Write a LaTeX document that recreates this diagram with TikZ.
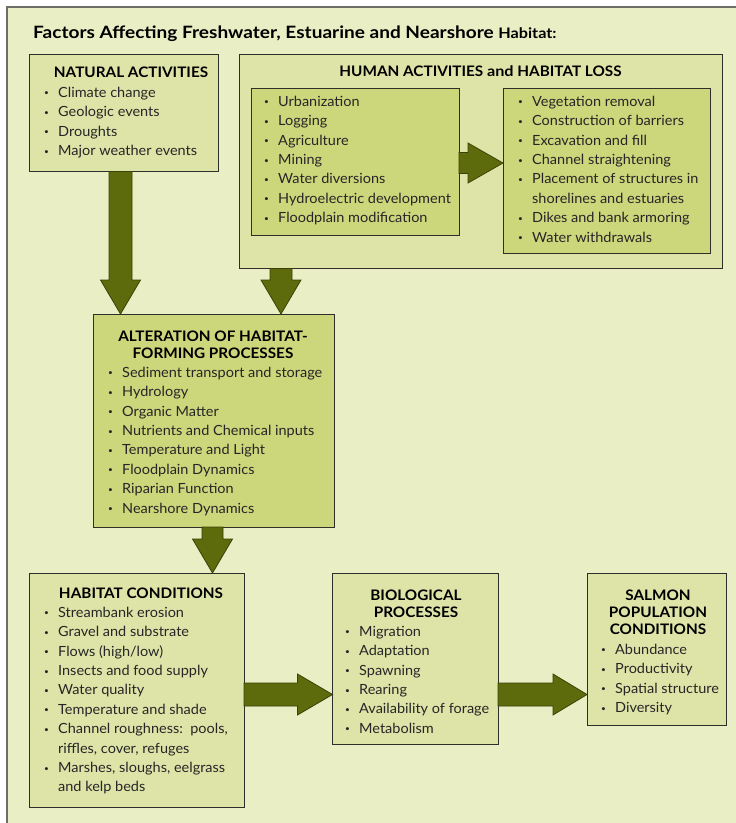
\documentclass[tikz,border=0pt]{standalone}
\usepackage{fontspec}
\setmainfont{Lato}
\newfontfamily\bodyfam[FakeStretch=1.035]{Lato}
\newfontfamily\headfam[FakeStretch=1.055]{Lato}
\newfontfamily\titlefam[FakeStretch=1.12]{Lato}
\usetikzlibrary{calc}
\definecolor{bg}{HTML}{E9EEC4}
\definecolor{lightbox}{HTML}{DEE4A8}
\definecolor{darkbox}{HTML}{CCD67B}
\definecolor{arrowfill}{HTML}{5E6B0C}
\definecolor{arrowline}{HTML}{3A4306}
\definecolor{boxline}{HTML}{2E2E2A}
\definecolor{frameline}{HTML}{6E6E68}
\newcommand\bodyfont{\bodyfam\fontsize{14}{19.4}\selectfont}
\newcommand\headfont{\headfam\fontsize{14.5}{17}\selectfont\bfseries}
\newcommand\bul{\makebox[14pt][l]{\raisebox{1.3pt}{\fontsize{8}{8}\selectfont\textbullet}}}
\newcommand\cont{\hspace*{14pt}}
% vertical block arrow: from node #1 to node #2 at x=#3, shaft half #4, head half #5, head length #6
\newcommand\varrow[6]{%
  \draw[blk] let \p1=(#1), \p2=(#2) in
    (#3-#4,\y1) -- (#3-#4,\y2+#6pt) -- (#3-#5,\y2+#6pt) -- (#3,\y2)
    -- (#3+#5,\y2+#6pt) -- (#3+#4,\y2+#6pt) -- (#3+#4,\y1) -- cycle;}
% horizontal block arrow: from node #1 to node #2 at y=#3
\newcommand\harrow[6]{%
  \draw[blk] let \p1=(#1), \p2=(#2) in
    (\x1,#3-#4) -- (\x2-#6pt,#3-#4) -- (\x2-#6pt,#3-#5) -- (\x2,#3)
    -- (\x2-#6pt,#3+#5) -- (\x2-#6pt,#3+#4) -- (\x1,#3+#4) -- cycle;}
\begin{document}
\begin{tikzpicture}[x=1pt,y=-1pt,
  lbox/.style={draw=boxline,fill=lightbox,line width=0.9pt,inner sep=0pt,anchor=north west,outer sep=0pt},
  dbox/.style={lbox,fill=darkbox},
  blk/.style={fill=arrowfill,draw=arrowline,line width=0.8pt,line join=miter},
  items/.style={font=\bodyfont,align=left,anchor=north west,inner sep=0pt,text=black!85},
  head/.style={font=\headfont,align=center,anchor=north,inner sep=0pt},
]
\useasboundingbox (0,0) rectangle (736,823);
\fill[bg] (7,7) rectangle (736,823);
\draw[frameline,line width=1.4pt] (736,7) -- (7,7) -- (7,823);

\node[anchor=base west,inner sep=0pt] (title) at (33,38)
  {\titlefam\fontsize{17}{20}\selectfont\bfseries Factors Affecting Freshwater, Estuarine and Nearshore {\fontsize{14.5}{16}\selectfont Habitat:}};

% boxes
\node[lbox,minimum width=189pt,minimum height=117pt] (nat) at (29.5,54.5) {};
\node[lbox,minimum width=483pt,minimum height=214.5pt] (hum) at (239.5,54) {};
\node[dbox,minimum width=208pt,minimum height=147pt] (inl) at (251,88) {};
\node[dbox,minimum width=207pt,minimum height=165pt] (inr) at (503,88) {};
\node[dbox,minimum width=241pt,minimum height=213pt] (alt) at (93,314) {};
\node[lbox,minimum width=214.5pt,minimum height=234pt] (hab) at (29.5,573) {};
\node[lbox,minimum width=165.5pt,minimum height=171pt] (bio) at (332.5,573) {};
\node[lbox,minimum width=139pt,minimum height=152pt] (sal) at (587,573) {};

% arrows
\varrow{nat.south}{alt.north}{120.5}{11.5}{20}{34}
\varrow{hum.south}{alt.north}{281}{11}{20}{34}
\harrow{inl.east}{inr.west}{163}{10.5}{20}{35}
\varrow{alt.south}{hab.north}{212.5}{10.5}{20}{34}
\harrow{hab.east}{bio.west}{694.5}{11.5}{20.5}{35}
\harrow{bio.east}{sal.west}{694.5}{11.5}{20.5}{34}

% texts
\node[head] (natT) at (131,77-11.9) {\strut NATURAL ACTIVITIES};
\node[items] (natI) at (58-14,97-13.58) {\strut\bul Climate change\\\bul Geologic events\\\bul Droughts\\\bul Major weather events};

\node[head] (humT) at (480.5,76-11.9) {\strut HUMAN ACTIVITIES {\addfontfeature{FakeStretch=1.12}and} HABITAT LOSS};
\node[items] (inlI) at (278-14,106-13.58) {\strut\bul Urbanization\\\bul Logging\\\bul Agriculture\\\bul Mining\\\bul Water diversions\\\bul Hydroelectric development\\\bul Floodplain modification};
\node[items] (inrI) at (532-14,106-13.58) {\strut\bul Vegetation removal\\\bul Construction of barriers\\\bul Excavation and fill\\\bul Channel straightening\\\bul Placement of structures in\\\cont shorelines and estuaries\\\bul Dikes and bank armoring\\\bul Water withdrawals};

\node[head] (altT) at (213,341-11.9) {\strut ALTERATION OF HABITAT-\\FORMING PROCESSES};
\node[items] (altI) at (122-14,377-13.58) {\strut\bul Sediment transport and storage\\\bul Hydrology\\\bul Organic Matter\\\bul Nutrients and Chemical inputs\\\bul Temperature and Light\\\bul Floodplain Dynamics\\\bul Riparian Function\\\bul Nearshore Dynamics};

\node[head] (habT) at (141,598-11.9) {\strut HABITAT CONDITIONS};
\node[items] (habI) at (58-14,617-13.58) {\strut\bul Streambank erosion\\\bul Gravel and substrate\\\bul Flows (high/low)\\\bul Insects and food supply\\\bul Water quality\\\bul Temperature and shade\\\bul Channel roughness:\ \ pools,\\\cont riffles, cover, refuges\\\bul Marshes, sloughs, eelgrass\\\cont and kelp beds};

\node[head] (bioT) at (416,600-11.9) {\strut BIOLOGICAL\\PROCESSES};
\node[items] (bioI) at (359-14,636-13.58) {\strut\bul Migration\\\bul Adaptation\\\bul Spawning\\\bul Rearing\\\bul Availability of forage\\\bul Metabolism};

\node[head] (salT) at (658,600-11.9) {\strut SALMON\\POPULATION\\CONDITIONS};
\node[items] (salI) at (615-14,654-13.58) {\strut\bul Abundance\\\bul Productivity\\\bul Spatial structure\\\bul Diversity};
\end{tikzpicture}
\end{document}
